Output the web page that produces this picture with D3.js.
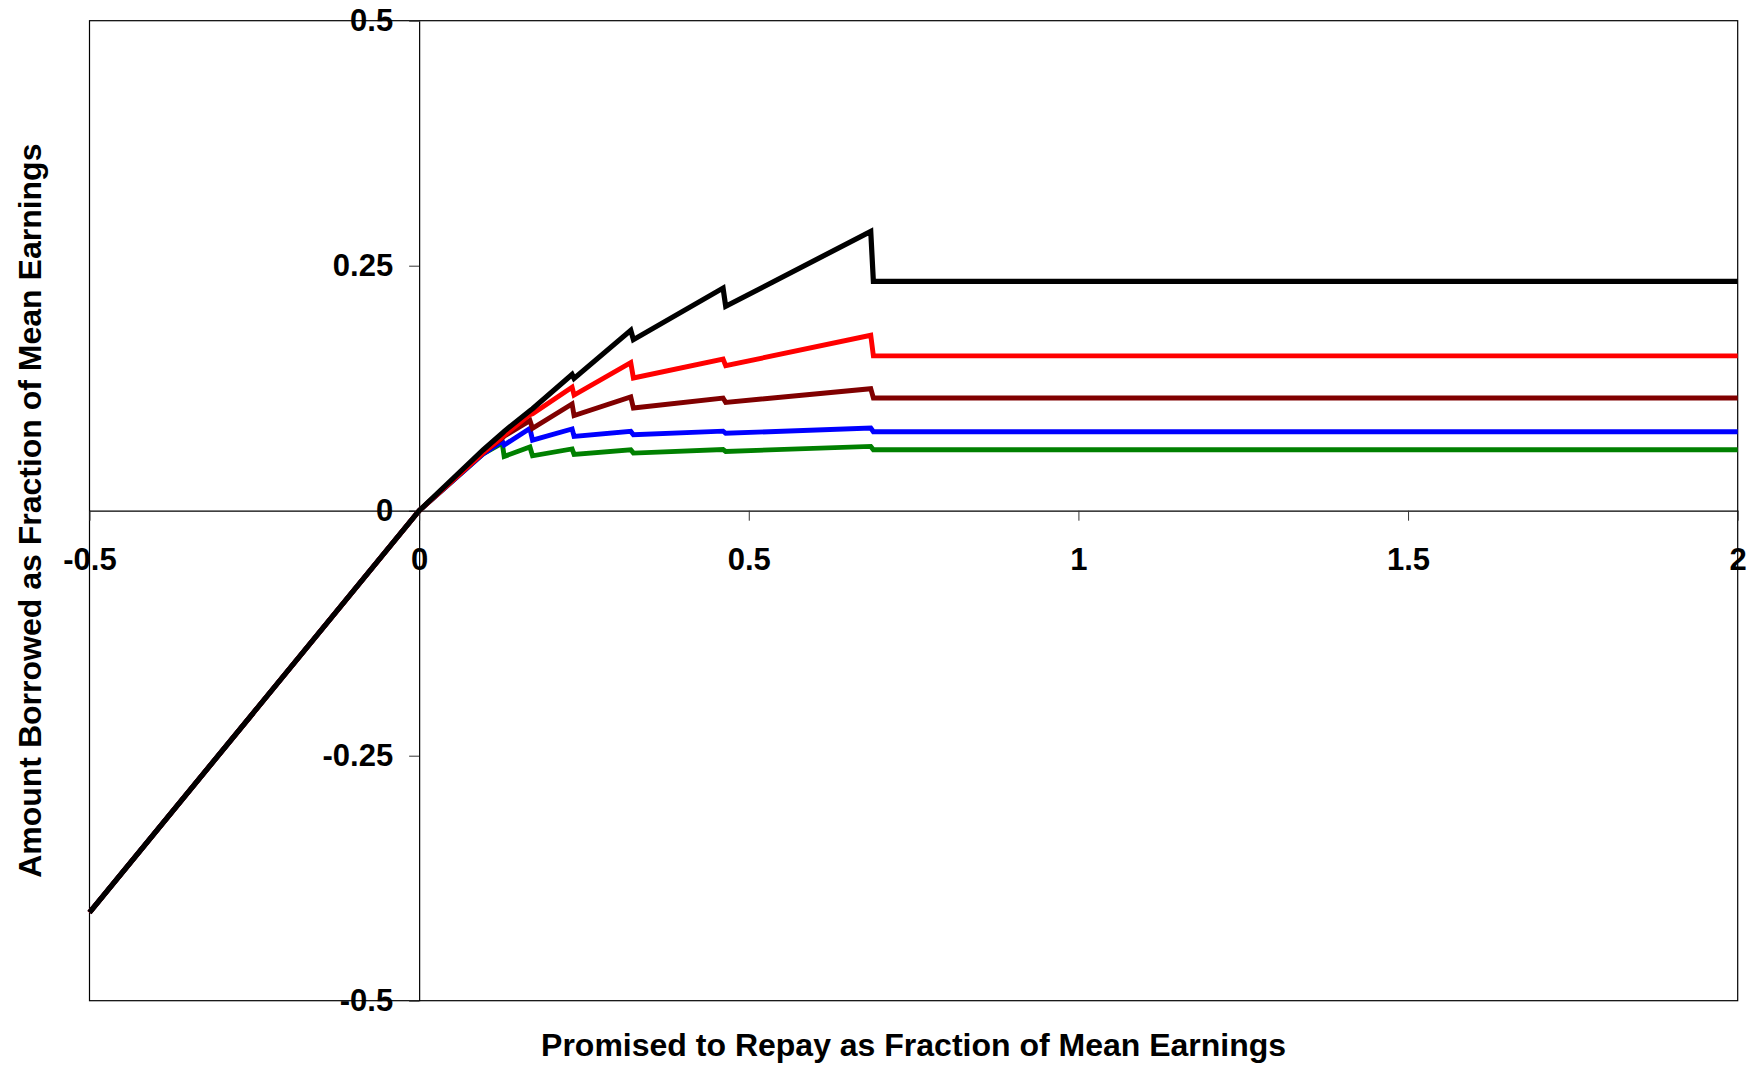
<!DOCTYPE html>
<html>
<head>
<meta charset="utf-8">
<script src="https://cdn.jsdelivr.net/npm/d3@7"></script>
<style>
  html, body { margin: 0; padding: 0; background: #fff; }
  svg { display: block; }
  text { font-family: "Liberation Sans", Arial, sans-serif; font-weight: bold; fill: #000; }
</style>
</head>
<body>
<svg id="chart" width="1759" height="1068"></svg>
<script>
// ---- Data ----
const xBreaks   = [-0.5, 0, 0.097, 0.126, 0.129, 0.168, 0.172, 0.232, 0.235, 0.321, 0.325, 0.461, 0.465, 0.685, 0.689, 2];
const blackVals = [-0.41, 0, 0.062, 0.079, 0.081, 0.102, 0.104, 0.139, 0.135, 0.184, 0.1745, 0.2272, 0.2085, 0.285, 0.234, 0.234];
const redVals   = [-0.41, 0, 0.059, 0.075, 0.077, 0.098, 0.099, 0.126, 0.118, 0.151, 0.1354, 0.1548, 0.148, 0.179, 0.158, 0.158];
const maroonVals= [-0.41, 0, 0.059, 0.074, 0.076, 0.092, 0.084, 0.109, 0.097, 0.116, 0.1048, 0.115, 0.1105, 0.1245, 0.115, 0.115];
const blueVals  = [-0.41, 0, 0.058, 0.071, 0.067, 0.084, 0.072, 0.0834, 0.0758, 0.0809, 0.0775, 0.0812, 0.079, 0.0844, 0.0806, 0.0806];
const greenVals = [-0.41, 0, 0.058, 0.069, 0.0554, 0.065, 0.056, 0.063, 0.0575, 0.0622, 0.0588, 0.0625, 0.0605, 0.0656, 0.0622, 0.0622];
const seriesNames  = ["green", "blue", "maroon", "red", "black"];
const seriesColors = ["#008000", "#0000FF", "#800000", "#FF0000", "#000000"];
const seriesValues = [greenVals, blueVals, maroonVals, redVals, blackVals];

const xTicks = [-0.5, 0, 0.5, 1, 1.5, 2];
const xTickLabels = ["-0.5", "0", "0.5", "1", "1.5", "2"];
const yTicks = [0.5, 0.25, 0, -0.25, -0.5];
const yTickLabels = ["0.5", "0.25", "0", "-0.25", "-0.5"];
const xTitle = "Promised to Repay as Fraction of Mean Earnings";
const yTitle = "Amount Borrowed as Fraction of Mean Earnings";

// ---- Layout ----
const L = 89.5, R = 1737.7, T = 20.7, B = 1000.7;
const svg = d3.select("#chart");
const x = d3.scaleLinear().domain([-0.5, 2]).range([L, R]);
const y = d3.scaleLinear().domain([-0.5, 0.5]).range([B, T]);

// frame
svg.append("rect")
  .attr("x", L).attr("y", T).attr("width", R - L).attr("height", B - T)
  .attr("fill", "none").attr("stroke", "#000").attr("stroke-width", 1.2);

// y axis at x = 0
const yAxis = d3.axisLeft(y)
  .tickValues(yTicks)
  .tickFormat((d, i) => yTickLabels[i])
  .tickSize(10).tickSizeOuter(0).tickPadding(16);
const gy = svg.append("g").attr("transform", `translate(${x(0)},0)`).call(yAxis);

// x axis at y = 0
const xAxis = d3.axisBottom(x)
  .tickValues(xTicks)
  .tickFormat((d, i) => xTickLabels[i])
  .tickSize(10).tickSizeOuter(0).tickPadding(27);
const gx = svg.append("g").attr("transform", `translate(0,${y(0)})`).call(xAxis);

[gx, gy].forEach(g => {
  g.select(".domain").attr("stroke", "#000").attr("stroke-width", 1.2);
  g.selectAll(".tick line").attr("stroke", "#333").attr("stroke-width", 1);
  g.selectAll(".tick text")
    .attr("font-size", 31)
    .style("font-family", '"Liberation Sans", Arial, sans-serif')
    .style("font-weight", "bold")
    .attr("fill", "#000");
});
gx.attr("font-size", null);
gy.attr("font-size", null);

// lines
const line = d3.line()
  .x(d => x(d[0]))
  .y(d => y(d[1]));

seriesValues.forEach((vals, i) => {
  const pts = xBreaks.map((xv, j) => [xv, vals[j]]);
  svg.append("path")
    .datum(pts)
    .attr("class", "series " + seriesNames[i])
    .attr("fill", "none")
    .attr("stroke", seriesColors[i])
    .attr("stroke-width", seriesNames[i] === "black" ? 5.2 : 4.9)
    .attr("stroke-linejoin", "miter")
    .attr("stroke-miterlimit", 3)
    .attr("d", line);
});

// axis titles
svg.append("text")
  .attr("x", (L + R) / 2).attr("y", 1056)
  .attr("text-anchor", "middle")
  .attr("font-size", 32)
  .text(xTitle);

svg.append("text")
  .attr("transform", `translate(41,${(T + B) / 2}) rotate(-90)`)
  .attr("text-anchor", "middle")
  .attr("font-size", 32)
  .text(yTitle);
</script>
</body>
</html>
